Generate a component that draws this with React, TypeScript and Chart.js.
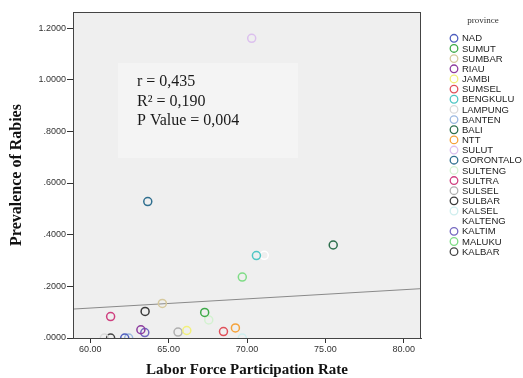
import React, { useEffect, useRef } from "react";
import { Chart, registerables } from "chart.js";
Chart.register(...registerables);

const provinces = ["NAD", "SUMUT", "SUMBAR", "RIAU", "JAMBI", "SUMSEL", "BENGKULU", "LAMPUNG", "BANTEN", "BALI", "NTT", "SULUT", "GORONTALO", "SULTENG", "SULTRA", "SULSEL", "SULBAR", "KALSEL", "KALTENG", "KALTIM", "MALUKU", "KALBAR"];
const laborForce = [62.2, 67.3, 64.6, 63.23, 66.16, 68.5, 70.6, 60.9, 62.45, 75.5, 69.26, 70.3, 63.67, 67.56, 61.3, 65.6, 63.5, 69.7, 71.1, 63.48, 69.7, 61.3];
const prevalence = [0.0, 0.099, 0.134, 0.032, 0.029, 0.025, 0.319, 0.0, 0.0, 0.36, 0.039, 1.16, 0.528, 0.07, 0.083, 0.023, 0.103, 0.0, 0.32, 0.021, 0.236, 0.0];
const pointColors = ["#4f5fbf", "#3daa48", "#d6c99e", "#8e3c9e", "#f2f07a", "#e0505a", "#4fc6c4", "#d9d9d9", "#9bb8e0", "#2c6e4c", "#f5a23a", "#dcc0ee", "#2f6f8f", "#d3f2d0", "#cf3f7f", "#b0b0b0", "#3a3a3a", "#cfeeee", "#ffffff", "#7468c0", "#7fdc86", "#444444"];
const fitX = [58.9, 81.1];
const fitY = [0.112, 0.191];
const statsLines = ["r = 0,435", "R\u00b2 = 0,190", "P Value = 0,004"];
const legendTitle = "province";
const xTitle = "Labor Force Participation Rate";
const yTitle = "Prevalence of Rabies";

const SANS = "'Liberation Sans', Arial, sans-serif";
const SERIF = "'Liberation Serif', 'Times New Roman', serif";

const framePlugin = {
  id: "frame",
  beforeDatasetsDraw(chart: any) {
    const { ctx, chartArea: a } = chart;
    ctx.save();
    ctx.fillStyle = "#efefef";
    ctx.fillRect(a.left, a.top, a.right - a.left, a.bottom - a.top);
    // stats box
    const bx = a.left + 45, by = a.top + 51, bw = 180, bh = 95;
    ctx.fillStyle = "#f4f4f4";
    ctx.fillRect(bx, by, bw, bh);
    ctx.fillStyle = "#1a1a1a";
    ctx.font = "16px " + SERIF;
    ctx.textBaseline = "middle";
    ctx.textAlign = "left";
    statsLines.forEach((t, i) => ctx.fillText(t, bx + 19, by + 19 + i * 19.5));
    ctx.restore();
  },
  afterDraw(chart: any) {
    const { ctx, chartArea: a } = chart;
    ctx.save();
    ctx.strokeStyle = "#444";
    ctx.lineWidth = 1;
    ctx.strokeRect(a.left + 0.5, a.top + 0.5, a.right - a.left - 1, a.bottom - a.top);
    // legend
    ctx.fillStyle = "#333";
    ctx.font = "9px " + SERIF;
    ctx.textAlign = "center";
    ctx.textBaseline = "middle";
    ctx.fillText(legendTitle, 483, 21);
    ctx.textAlign = "left";
    ctx.font = "9.5px " + SANS;
    chart.data.datasets.forEach((ds: any, i: number) => {
      if (ds.isFit) return;
      const y = 38.3 + i * 10.16;
      ctx.beginPath();
      ctx.arc(454, y, 3.8, 0, Math.PI * 2);
      ctx.strokeStyle = ds.borderColor;
      ctx.lineWidth = 1.3;
      ctx.stroke();
      ctx.fillStyle = "#222";
      ctx.fillText(ds.label, 462, y + 0.5);
    });
    ctx.restore();
  },
};

export default function App() {
  const ref = useRef<HTMLCanvasElement>(null);
  useEffect(() => {
    if (!ref.current) return;
    const datasets: any[] = provinces.map((p, i) => ({
      type: "scatter",
      label: p,
      data: [{ x: laborForce[i], y: prevalence[i] }],
      borderColor: pointColors[i],
      backgroundColor: "rgba(0,0,0,0)",
      pointRadius: 4,
      pointBorderWidth: 1.5,
      borderWidth: 1.5,
      clip: 0,
    }));
    datasets.push({
      type: "line",
      label: "fit",
      isFit: true,
      data: fitX.map((x, i) => ({ x, y: fitY[i] })),
      borderColor: "#8a8a8a",
      borderWidth: 1,
      pointRadius: 0,
      clip: 0,
      order: 100,
    });
    const chart = new Chart(ref.current, {
      type: "scatter",
      data: { datasets },
      options: {
        animation: false,
        responsive: false,
        events: [],
        layout: { padding: { top: 12, right: 102, left: 0, bottom: 0 } },
        plugins: { legend: { display: false }, tooltip: { enabled: false } },
        scales: {
          x: {
            type: "linear",
            min: 58.9,
            max: 81.1,
            afterFit: (s: any) => { s.height = 40; },
            ticks: {
              stepSize: 5,
              includeBounds: false,
              padding: 1,
              color: "#333",
              font: { family: SANS, size: 9 },
              callback: (v: any) => Number(v).toFixed(2),
            },
            grid: { drawOnChartArea: false, drawTicks: true, tickLength: 5, color: "#333" },
            border: { display: true, color: "#444" },
            title: {
              display: true,
              text: xTitle,
              color: "#111",
              font: { family: SERIF, size: 15, weight: "bold", lineHeight: 1 },
              padding: 0,
            },
          },
          y: {
            type: "linear",
            min: 0,
            max: 1.262,
            afterFit: (s: any) => { s.width = 73; },
            ticks: {
              stepSize: 0.2,
              includeBounds: false,
              padding: 1,
              color: "#333",
              font: { family: SANS, size: 9 },
              callback: (v: any) => {
                const s = Number(v).toFixed(4);
                return s.startsWith("0") ? s.slice(1) : s;
              },
            },
            grid: { drawOnChartArea: false, drawTicks: true, tickLength: 6, color: "#333" },
            border: { display: true, color: "#444" },
            title: {
              display: true,
              text: yTitle,
              color: "#111",
              font: { family: SERIF, size: 16, weight: "bold", lineHeight: 1 },
              padding: { top: 9, bottom: 9 },
            },
          },
        },
      } as any,
      plugins: [framePlugin],
    });
    return () => chart.destroy();
  }, []);
  return (
    <div style={{ position: "fixed", left: 0, top: 0, width: 523, height: 378, background: "#fff" }}>
      <canvas ref={ref} width={523} height={378} style={{ width: 523, height: 378, display: "block" }} />
    </div>
  );
}
